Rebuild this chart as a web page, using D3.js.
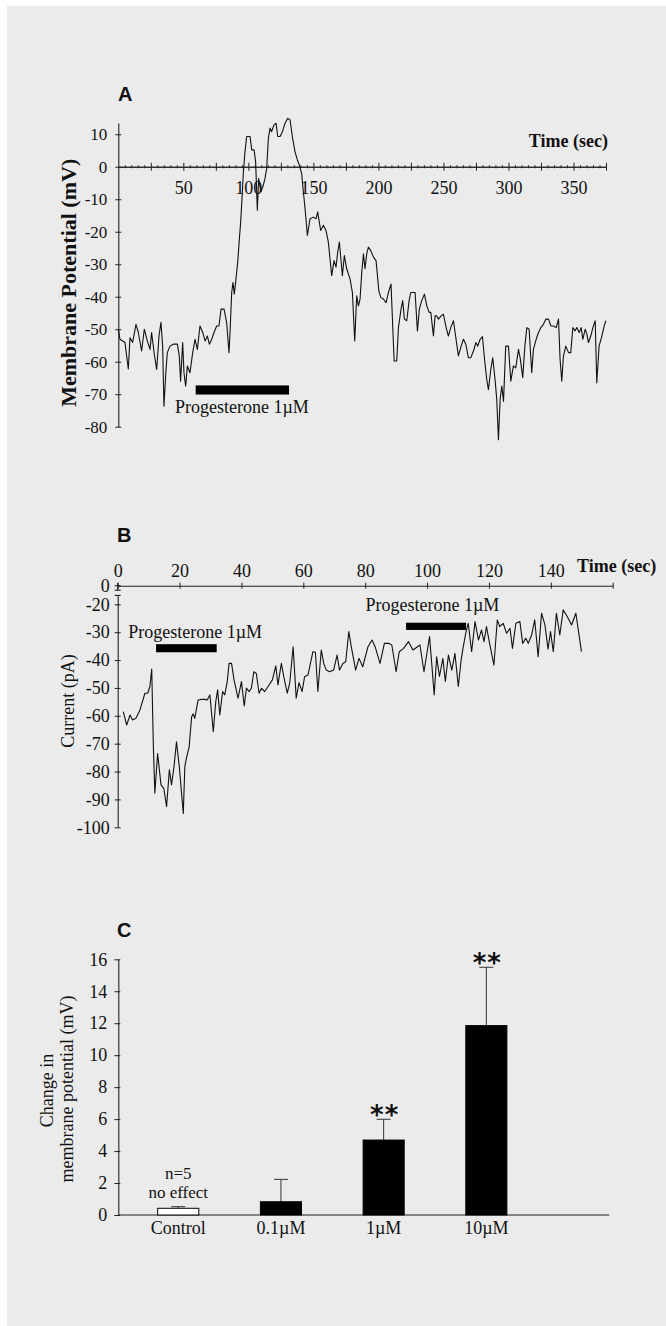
<!DOCTYPE html>
<html>
<head>
<meta charset="utf-8">
<script src="https://cdn.jsdelivr.net/npm/d3@7"></script>
<style>
  body { margin: 0; background: #fff; }
  svg text { font-family: "Liberation Serif", "Times New Roman", serif; fill: #111; }
</style>
</head>
<body>
<script>
// ---- Panel A: membrane potential trace (mV) vs time (sec)
const timeA = [
  0,1.3,5.1,7.7,9.0,11.0,13.6,15.4,17.9,20.0,
  22.3,24.4,25.6,27.7,29.5,31.3,32.8,34.1,35.1,36.7,
  37.7,39.7,42.3,45.4,46.9,47.9,49.5,50.5,51.8,53.1,
  55.1,57.2,59.0,60.8,62.8,64.9,66.7,68.5,70.0,71.8,
  73.6,75.6,77.4,79.0,81.3,83.3,85.1,85.9,87.2,88.2,
  89.2,90.5,91.8,93.1,94.1,95.1,96.2,97.4,98.7,101.3,
  102.6,104.4,105.6,106.9,107.9,109.7,111.5,112.8,114.1,115.4,
  116.7,117.9,119.7,121.3,122.6,124.4,126.2,128.2,130.3,132.1,
  133.8,135.9,137.7,139.2,141.0,142.3,143.6,145.4,147.4,150.0,
  152.1,153.3,155.6,157.7,159.7,161.5,162.8,164.1,165.9,167.4,
  168.7,170.0,172.3,173.8,175.6,178.2,180.0,181.8,183.3,184.6,
  185.9,187.2,188.5,189.7,191.0,192.3,194.1,196.2,198.2,200.3,
  201.8,203.8,205.9,207.7,209.7,211.0,212.1,214.1,215.4,217.4,
  218.7,220.0,221.8,223.6,224.9,228.2,230.0,231.5,233.3,235.4,
  237.2,239.0,240.3,242.3,243.6,244.9,246.2,248.2,250.0,252.1,
  253.8,255.6,257.7,259.7,261.5,263.6,265.4,267.2,269.2,271.0,
  273.1,274.9,276.4,278.2,280.0,281.5,283.3,284.6,286.4,287.9,
  289.7,291.0,292.3,293.6,294.9,296.2,297.9,300.0,301.8,303.8,
  305.6,307.7,309.0,311.0,312.6,314.1,315.9,317.9,319.2,321.3,
  323.1,324.9,326.9,328.7,330.8,332.6,334.6,336.7,338.5,339.7,
  341.0,342.3,344.1,346.2,347.9,349.5,351.3,352.6,354.4,355.9,
  357.2,359.0,360.3,361.5,363.3,364.9,366.7,367.9,369.7,371.8,
  373.6,374.9
];
const potentialA = [
  -50.0,-53.1,-54.1,-62.2,-52.6,-54.1,-48.5,-51.0,-56.7,-50.0,
  -53.6,-56.2,-51.0,-57.7,-62.4,-52.1,-47.9,-55.2,-73.7,-62.4,
  -57.2,-55.2,-54.6,-54.6,-58.2,-66.0,-54.1,-63.4,-67.5,-61.3,
  -63.4,-57.2,-53.1,-56.2,-49.0,-51.0,-53.6,-52.1,-54.6,-53.1,
  -51.0,-49.0,-49.0,-43.8,-43.8,-47.9,-57.2,-51.0,-38.7,-35.6,
  -39.2,-34.5,-29.4,-22.2,-17.0,-9.8,-1.5,4.6,9.3,9.3,
  5.2,5.2,1.5,-13.4,-3.6,-7.7,-5.7,-3.6,-0.5,8.8,
  11.9,10.8,12.9,13.4,9.3,9.3,10.8,13.4,14.9,14.4,
  9.3,4.6,2.1,0.5,-2.1,-7.7,-12.9,-21.1,-16.0,-15.5,
  -16.0,-13.9,-19.6,-18.0,-19.6,-23.2,-28.4,-33.5,-28.9,-30.9,
  -26.3,-23.2,-33.5,-27.3,-31.4,-34.5,-38.7,-53.6,-39.7,-42.8,
  -40.7,-32.5,-26.8,-31.4,-26.8,-24.7,-25.8,-27.8,-28.9,-38.1,
  -40.2,-40.7,-41.8,-38.7,-36.1,-49.0,-59.8,-59.8,-49.5,-43.8,
  -41.2,-46.9,-47.4,-41.2,-38.7,-38.7,-50.5,-43.8,-41.2,-39.2,
  -42.8,-44.8,-44.8,-52.1,-45.9,-45.9,-46.9,-45.9,-45.4,-49.5,
  -52.1,-49.5,-47.4,-53.1,-58.2,-55.2,-53.1,-54.6,-58.8,-58.8,
  -56.7,-54.1,-55.2,-53.1,-52.3,-58.8,-65.5,-68.6,-62.4,-58.8,
  -65.5,-71.6,-84.0,-71.6,-67.5,-72.2,-55.2,-55.2,-66.0,-61.3,
  -61.9,-56.2,-58.8,-64.9,-55.2,-49.5,-50.0,-63.4,-56.2,-53.1,
  -51.0,-49.5,-48.5,-46.9,-46.9,-49.0,-49.0,-49.5,-46.9,-59.3,
  -66.0,-58.2,-55.2,-57.2,-57.2,-49.5,-50.5,-49.5,-51.0,-49.5,
  -53.1,-50.0,-51.5,-54.1,-52.1,-49.5,-47.4,-66.5,-55.2,-52.1,
  -49.0,-47.4
];
const ticksAx = [50, 100, 150, 200, 250, 300, 350];
const ticksAy = [-80, -70, -60, -50, -40, -30, -20, -10, 0, 10];
const drugA = { start: 59.5, end: 131.3, top: -67.3, bottom: -70.1 };

// ---- Panel B: current trace (pA) vs time (sec)
const timeB = [
  1.8,2.9,4.0,4.8,5.9,7.2,8.8,9.7,10.4,11.0,
  11.5,12.0,12.9,14.0,14.9,15.8,16.7,17.4,18.2,19.0,
  19.9,21.2,21.7,22.3,23.1,23.9,24.4,24.9,26.0,27.1,
  28.2,28.9,29.8,30.9,31.7,32.3,33.0,33.9,34.6,35.4,
  36.0,36.8,37.6,38.9,40.0,40.9,41.6,42.5,43.2,44.0,
  44.8,45.7,46.5,47.5,48.6,50.0,51.1,51.8,52.9,53.7,
  54.8,55.6,56.7,57.7,58.6,59.6,60.4,61.5,63.1,63.9,
  64.7,65.8,66.6,67.4,68.5,69.8,70.9,71.7,72.8,73.7,
  74.7,75.5,76.9,78.0,79.2,80.9,82.2,83.2,84.8,86.2,
  87.5,88.6,90.0,91.0,92.4,94.0,95.4,96.9,97.7,99.0,
  100.8,101.5,102.3,103.1,104.0,105.1,105.9,106.9,108.0,109.0,
  110.1,111.0,111.7,112.6,113.3,114.4,115.5,116.6,117.6,118.4,
  119.2,120.1,121.6,122.7,123.5,124.6,125.7,126.8,127.6,128.7,
  130.0,130.9,131.9,132.7,133.8,134.8,135.9,137.0,138.1,139.1,
  139.9,140.8,141.8,142.9,144.0,145.3,146.7,148.1,149.9
];
const currentB = [
  -58.5,-63.3,-59.7,-61.5,-60.9,-57.9,-51.9,-51.9,-49.5,-43.2,
  -69.9,-87.8,-73.5,-84.8,-86.0,-92.6,-79.4,-84.8,-78.2,-69.3,
  -78.2,-95.0,-78.2,-74.7,-71.1,-60.3,-59.3,-60.9,-54.3,-54.1,
  -54.1,-54.3,-52.5,-65.7,-54.9,-50.7,-59.7,-51.3,-52.5,-47.7,
  -41.2,-41.2,-47.1,-53.7,-47.7,-56.5,-50.1,-51.3,-50.1,-44.2,
  -44.8,-51.9,-50.1,-51.3,-49.5,-47.1,-42.1,-48.9,-41.2,-46.0,
  -51.9,-48.3,-35.2,-53.7,-48.1,-51.3,-46.0,-45.4,-37.0,-37.2,
  -51.3,-36.4,-41.2,-43.6,-44.2,-43.6,-38.2,-43.6,-41.2,-40.6,
  -29.8,-35.2,-43.6,-39.4,-42.4,-35.2,-32.8,-35.2,-41.2,-34.0,
  -34.0,-34.6,-44.2,-37.0,-35.8,-33.4,-36.4,-35.2,-34.6,-44.2,
  -31.6,-41.2,-52.5,-38.8,-45.9,-39.4,-47.7,-38.2,-43.6,-37.6,
  -49.5,-40.0,-35.2,-29.8,-26.8,-37.0,-26.2,-32.8,-29.2,-33.4,
  -28.0,-33.4,-41.8,-25.6,-28.0,-26.8,-30.4,-28.6,-35.8,-26.8,
  -26.2,-34.0,-32.2,-34.0,-31.0,-25.6,-38.8,-23.2,-27.4,-36.1,
  -29.8,-37.0,-23.2,-31.0,-22.0,-24.4,-27.4,-23.2,-37.0
];
const ticksBx = [0, 20, 40, 60, 80, 100, 120, 140, 160];
const ticksBy = [-100, -90, -80, -70, -60, -50, -40, -30, -20];
const drugB = [
  { start: 12.4, end: 32.0, top: -34.3, bottom: -37.2, textAt: 3.4, textY: -32.2 },
  { start: 93.2, end: 112.6, top: -26.6, bottom: -29.2, textAt: 80.1, textY: -22.3 }
];

// ---- Panel C: mean change in membrane potential (mV) per dose
const doses = ["Control", "0.1\u00b5M", "1\u00b5M", "10\u00b5M"];
const meanChange = [0.42, 0.83, 4.69, 11.85];
const semChange = [0.10, 1.40, 1.30, 3.65];
const significance = ["", "", "**", "**"];
const ticksCy = [0, 2, 4, 6, 8, 10, 12, 14, 16];

const W = 666, H = 1326;
const AXIS = "#222";
const plain = d => String(d);   // hyphen-minus, as in the figure

const svg = d3.select("body").append("svg")
    .attr("width", W)
    .attr("height", H);

svg.append("rect")
    .attr("x", 7).attr("y", 6)
    .attr("width", W - 7).attr("height", H - 6)
    .attr("fill", "#ebebeb");

function styleAxis(g, size) {
    g.selectAll(".domain").attr("stroke", AXIS).attr("stroke-width", 1.1);
    g.selectAll(".tick line").attr("stroke", AXIS);
    g.selectAll(".tick text")
        .attr("fill", "#111")
        .style("font-family", '"Liberation Serif", "Times New Roman", serif')
        .style("font-size", size + "px");
}

function panelLetter(letter, x, y) {
    svg.append("text")
        .attr("x", x).attr("y", y)
        .style("font-family", '"Liberation Sans", Arial, sans-serif')
        .style("font-weight", "bold")
        .style("font-size", "20px")
        .text(letter);
}

// ================= Panel A =================
const xA = d3.scaleLinear().domain([0, 375]).range([118.3, 606]);
const yA = d3.scaleLinear().domain([-80, 13.5]).range([426.7, 122.9]);

panelLetter("A", 118, 100.7);

// y axis with ticks crossing the line
const gAy = svg.append("g")
    .attr("transform", `translate(${xA(0)},0)`)
    .call(d3.axisLeft(yA).tickValues(ticksAy).tickSize(3).tickSizeOuter(0).tickPadding(8).tickFormat(plain));
gAy.selectAll(".tick line").attr("x1", 3);
styleAxis(gAy, 17);

// x axis along zero: minor, mid and labelled ticks
const gAxMinor = svg.append("g")
    .attr("transform", `translate(0,${yA(0)})`)
    .call(d3.axisBottom(xA).tickValues(d3.range(5, 376, 5).filter(d => d % 25 !== 0))
        .tickSize(1.5).tickSizeOuter(0).tickFormat(""));
gAxMinor.selectAll(".tick line").attr("y1", -1.5);
styleAxis(gAxMinor, 17);

const gAx = svg.append("g")
    .attr("transform", `translate(0,${yA(0)})`)
    .call(d3.axisBottom(xA).tickValues(d3.range(25, 376, 25))
        .tickSize(4).tickSizeOuter(0).tickPadding(10)
        .tickFormat(d => ticksAx.includes(d) ? d : ""));
gAx.selectAll(".tick line").attr("y1", -4);
gAx.select(".domain").attr("stroke-width", 1.3);
styleAxis(gAx, 18);

svg.append("text")
    .attr("x", 608).attr("y", 147)
    .attr("text-anchor", "end")
    .style("font-weight", "bold").style("font-size", "18px")
    .text("Time (sec)");

svg.append("text")
    .attr("transform", `translate(76,${(yA(-80) + yA(13.5)) / 2 + 8}) rotate(-90)`)
    .attr("text-anchor", "middle")
    .style("font-weight", "bold").style("font-size", "22px")
    .text("Membrane Potential (mV)");

svg.append("path")
    .datum(d3.zip(timeA, potentialA))
    .attr("fill", "none")
    .attr("stroke", "#111")
    .attr("stroke-width", 1.1)
    .attr("stroke-linejoin", "round")
    .attr("d", d3.line().x(d => xA(d[0])).y(d => yA(d[1])));

svg.append("rect")
    .attr("x", xA(drugA.start)).attr("y", yA(drugA.top))
    .attr("width", xA(drugA.end) - xA(drugA.start))
    .attr("height", yA(drugA.bottom) - yA(drugA.top))
    .attr("fill", "#000");

svg.append("text")
    .attr("x", xA(43.6)).attr("y", yA(-75.8))
    .style("font-size", "18px")
    .text("Progesterone 1\u00b5M");

// ================= Panel B =================
const xB = d3.scaleLinear().domain([0, 160]).range([117.7, 612.7]);
const yB = d3.scaleLinear().domain([-100, -16.8]).range([827.3, 595.4]);
const zeroB = 585.7; // y axis is broken between 0 and -20 pA

panelLetter("B", 117, 541.7);

const gBx = svg.append("g")
    .attr("transform", `translate(0,${zeroB})`)
    .call(d3.axisTop(xB).tickValues(ticksBx).tickSize(3).tickSizeOuter(0).tickPadding(6)
        .tickFormat(d => d < 160 ? d : ""));
gBx.selectAll(".tick line").attr("y1", 3);
styleAxis(gBx, 18);

const gBy = svg.append("g")
    .attr("transform", `translate(${xB(0)},0)`)
    .call(d3.axisLeft(yB).tickValues(ticksBy).tickSize(3).tickSizeOuter(0).tickPadding(5).tickFormat(plain));
gBy.selectAll(".tick line").attr("x1", 3);
styleAxis(gBy, 18);

// short upper stub of the broken axis with the 0 tick
const stub = svg.append("g").attr("stroke", AXIS).attr("stroke-width", 1.1);
stub.append("line").attr("x1", xB(0)).attr("x2", xB(0)).attr("y1", zeroB - 3).attr("y2", zeroB + 4.5);
stub.append("line").attr("x1", xB(0) - 3).attr("x2", xB(0) + 3).attr("y1", zeroB).attr("y2", zeroB);
stub.append("line").attr("x1", xB(0) - 3).attr("x2", xB(0) + 3).attr("y1", zeroB + 4.5).attr("y2", zeroB + 4.5);
stub.append("line").attr("x1", xB(0) - 3).attr("x2", xB(0) + 3).attr("y1", yB(-16.8)).attr("y2", yB(-16.8));
svg.append("text")
    .attr("x", xB(0) - 8).attr("y", zeroB + 6)
    .attr("text-anchor", "end")
    .style("font-size", "18px")
    .text("0");

svg.append("text")
    .attr("x", 577).attr("y", 572)
    .style("font-weight", "bold").style("font-size", "18px")
    .text("Time (sec)");

svg.append("text")
    .attr("transform", `translate(74,701) rotate(-90)`)
    .attr("text-anchor", "middle")
    .style("font-size", "18px")
    .text("Current (pA)");

svg.append("path")
    .datum(d3.zip(timeB, currentB))
    .attr("fill", "none")
    .attr("stroke", "#111")
    .attr("stroke-width", 1.1)
    .attr("stroke-linejoin", "round")
    .attr("d", d3.line().x(d => xB(d[0])).y(d => yB(d[1])));

svg.append("g").selectAll("rect")
    .data(drugB)
    .join("rect")
    .attr("x", d => xB(d.start)).attr("y", d => yB(d.top))
    .attr("width", d => xB(d.end) - xB(d.start))
    .attr("height", d => yB(d.bottom) - yB(d.top))
    .attr("fill", "#000");

svg.append("g").selectAll("text")
    .data(drugB)
    .join("text")
    .attr("x", d => xB(d.textAt)).attr("y", d => yB(d.textY))
    .style("font-size", "18px")
    .text("Progesterone 1\u00b5M");

// ================= Panel C =================
const xC = d3.scaleBand().domain(doses).range([126.9, 537.7]).paddingInner(0.6).paddingOuter(0.3);
const yC = d3.scaleLinear().domain([0, 16]).range([1215, 959.3]);

panelLetter("C", 117, 936.7);

const gCy = svg.append("g")
    .attr("transform", `translate(118.3,0)`)
    .call(d3.axisLeft(yC).tickValues(ticksCy).tickSize(4).tickSizeOuter(0).tickPadding(7));
gCy.selectAll(".tick line").attr("x1", 2);
styleAxis(gCy, 18);

const gCx = svg.append("g")
    .attr("transform", `translate(0,${yC(0)})`)
    .call(d3.axisBottom(xC).tickSize(0).tickPadding(6));
gCx.select(".domain").remove();
styleAxis(gCx, 18);
svg.append("line")
    .attr("x1", 118.3).attr("x2", 609.3)
    .attr("y1", yC(0)).attr("y2", yC(0))
    .attr("stroke", AXIS).attr("stroke-width", 1.1);

const ylab = svg.append("g").style("font-size", "18px").attr("text-anchor", "middle");
ylab.append("text").attr("transform", "translate(53.3,1090.5) rotate(-90)").text("Change in");
ylab.append("text").attr("transform", "translate(72.7,1089) rotate(-90)").text("membrane potential (mV)");

const barsC = doses.map((d, i) => ({ dose: d, mean: meanChange[i], sem: semChange[i], sig: significance[i] }));

const errG = svg.append("g").attr("stroke", "#333").attr("stroke-width", 1);
errG.selectAll("line.v")
    .data(barsC)
    .join("line")
    .attr("class", "v")
    .attr("x1", d => xC(d.dose) + xC.bandwidth() / 2)
    .attr("x2", d => xC(d.dose) + xC.bandwidth() / 2)
    .attr("y1", d => yC(d.mean))
    .attr("y2", d => yC(d.mean + d.sem));
errG.selectAll("line.cap")
    .data(barsC)
    .join("line")
    .attr("class", "cap")
    .attr("x1", d => xC(d.dose) + xC.bandwidth() / 2 - 7)
    .attr("x2", d => xC(d.dose) + xC.bandwidth() / 2 + 7)
    .attr("y1", d => yC(d.mean + d.sem))
    .attr("y2", d => yC(d.mean + d.sem));

svg.append("g").selectAll("rect")
    .data(barsC)
    .join("rect")
    .attr("x", d => xC(d.dose))
    .attr("y", d => yC(d.mean))
    .attr("width", xC.bandwidth())
    .attr("height", d => yC(0) - yC(d.mean))
    .attr("fill", (d, i) => i === 0 ? "#fff" : "#000")
    .attr("stroke", "#000")
    .attr("stroke-width", 1);

svg.append("g").selectAll("text")
    .data(barsC.filter(d => d.sig))
    .join("text")
    .attr("x", d => xC(d.dose) + xC.bandwidth() / 2 + 1)
    .attr("y", d => yC(d.mean + d.sem) + 5)
    .attr("text-anchor", "middle")
    .style("font-family", '"DejaVu Sans", sans-serif')
    .style("font-weight", "bold")
    .style("font-size", "26px")
    .style("letter-spacing", "1px")
    .text(d => d.sig);

// "n=5 / no effect" note above the control bar
const ctrlX = xC(doses[0]) + xC.bandwidth() / 2;
const note = svg.append("g").attr("text-anchor", "middle").style("font-size", "17px");
note.append("text").attr("x", ctrlX).attr("y", 1179).text("n=5");
note.append("text").attr("x", ctrlX).attr("y", 1198).text("no effect");
</script>
</body>
</html>
